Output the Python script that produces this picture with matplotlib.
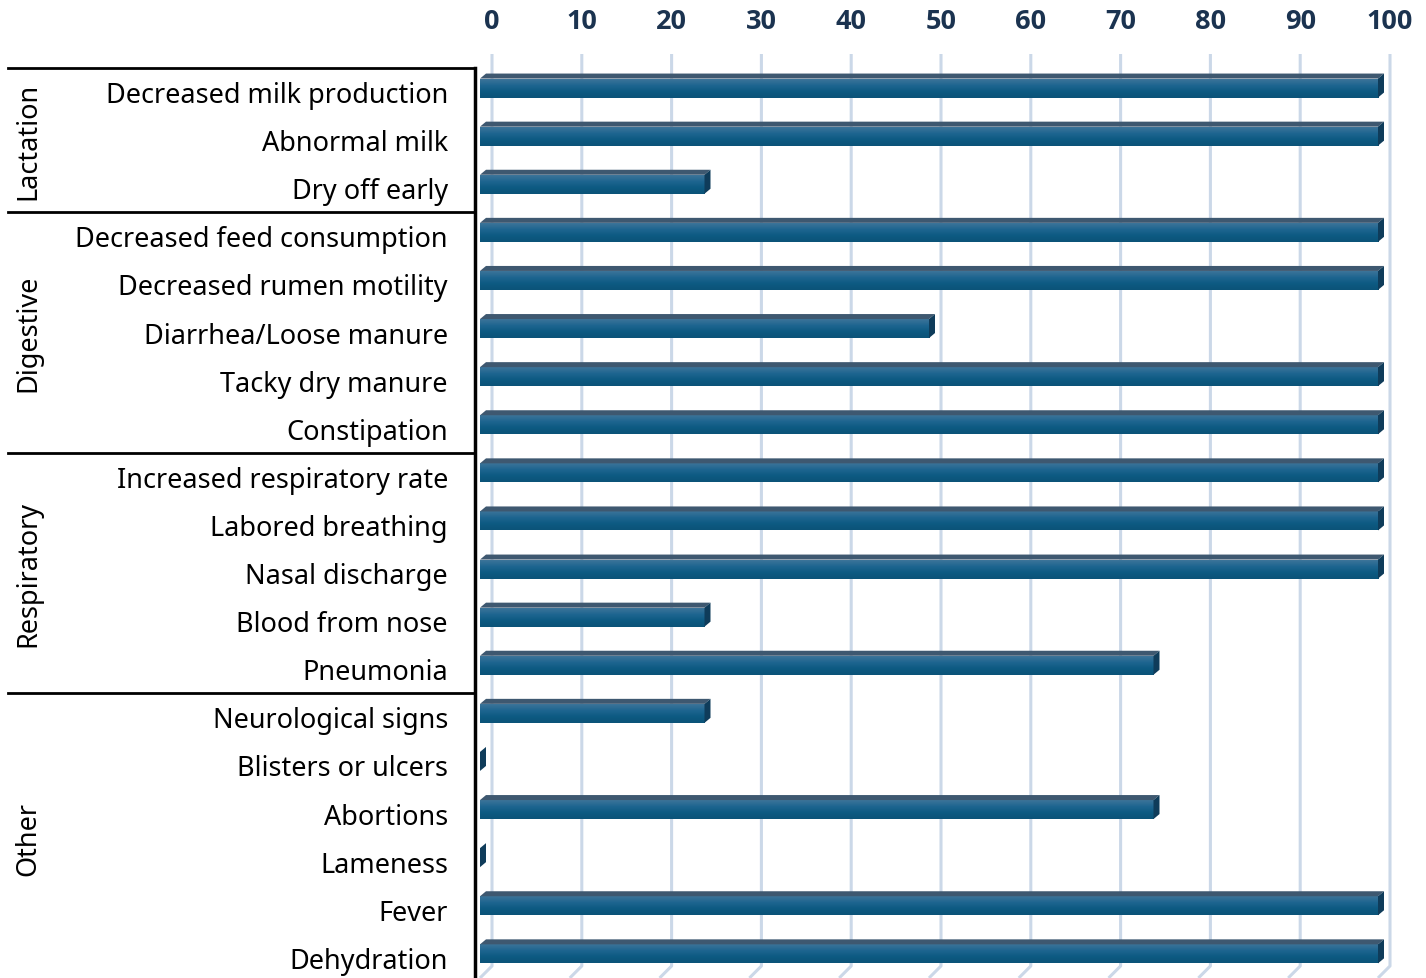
import matplotlib.pyplot as plt
import numpy as np
from matplotlib.patches import Polygon

# Data
groups = ["Lactation", "Digestive", "Respiratory", "Other"]
group_sizes = [3, 5, 5, 6]
symptoms = [
    "Decreased milk production", "Abnormal milk", "Dry off early",
    "Decreased feed consumption", "Decreased rumen motility",
    "Diarrhea/Loose manure", "Tacky dry manure", "Constipation",
    "Increased respiratory rate", "Labored breathing", "Nasal discharge",
    "Blood from nose", "Pneumonia",
    "Neurological signs", "Blisters or ulcers", "Abortions", "Lameness",
    "Fever", "Dehydration",
]
values = [100, 100, 25, 100, 100, 50, 100, 100, 100, 100, 100, 25, 75,
          25, 0, 75, 0, 100, 100]
ticks = list(range(0, 101, 10))

plt.rcParams['font.family'] = ['Noto Sans', 'DejaVu Sans']

W, H = 1426, 979
fig = plt.figure(figsize=(W / 100, H / 100), dpi=100)

# layout in pixels
x0_px, xs = 480, 8.98          # value 0 at front face, px per unit
y0_px, ys = 69, 48.1           # top of first slot, px per row
ax_l, ax_r = 475, 1400
n = len(symptoms)
ax_b = y0_px + n * ys

def px2x(px):
    return (px - x0_px) / xs

def py2y(py):
    return (py - y0_px) / ys - 0.5

ax = fig.add_axes([ax_l / W, 1 - ax_b / H, (ax_r - ax_l) / W, (ax_b - y0_px) / H])
ax.set_xlim(px2x(ax_l), px2x(ax_r))
ax.set_ylim(n - 0.5, -0.5)
ax.axis('off')

# back wall offset, bar depth
wall_dx = 12 / xs
floor_dy = 12 / ys
dep_x, dep_y = 6 / xs, 5 / ys
bar_h = 19 / ys
bar_shift = -4 / ys

grid_c = '#cbd8e8'
for t in ticks:
    ax.plot([t + wall_dx, t + wall_dx, t], [py2y(55), py2y(967), py2y(967) + floor_dy],
            color=grid_c, lw=2.2, zorder=1, clip_on=False, solid_capstyle='butt')
    ax.text(t + wall_dx, py2y(22), str(t), ha='center', va='center',
            fontsize=19.5, fontweight='bold', color='#1b3350', clip_on=False,
            family=['Open Sans', 'DejaVu Sans'])

grad = np.linspace(0, 1, 64).reshape(-1, 1)
cmap = plt.matplotlib.colors.LinearSegmentedColormap.from_list(
    'front', ['#3c7499', '#1e6590', '#0d5a82', '#0b5378'])
ypos = np.arange(n) + bar_shift
bars = ax.barh(ypos, values, height=bar_h, color='#15608a', zorder=3)
for b, v in zip(bars, values):
    yt, yb = b.get_y(), b.get_y() + b.get_height()
    x1 = b.get_width()
    if v > 0:
        im = ax.imshow(grad, cmap=cmap, aspect='auto', extent=[0, x1, yb, yt],
                       zorder=3.5, interpolation='bilinear')
        im.set_clip_path(b)
        top = Polygon([(0, yt), (x1, yt), (x1 + dep_x, yt - dep_y), (dep_x, yt - dep_y)],
                      closed=True, color='#3e5870', zorder=4, lw=0)
        ax.add_patch(top)
    side = Polygon([(x1, yt), (x1 + dep_x, yt - dep_y), (x1 + dep_x, yb - dep_y), (x1, yb)],
                   closed=True, color='#0f3c5a', zorder=4, lw=0)
    ax.add_patch(side)

ax.set_xlim(px2x(ax_l), px2x(ax_r))
ax.set_ylim(n - 0.5, -0.5)

# category labels
for i, s in enumerate(symptoms):
    ax.text(px2x(448), i + 3 / ys, s, ha='right', va='center', fontsize=19.5,
            color='black', clip_on=False)

# group labels and separators
edges = np.concatenate([[0], np.cumsum(group_sizes)]) - 0.5
for g, a, b in zip(groups, edges[:-1], edges[1:]):
    ax.plot([px2x(8), px2x(ax_l)], [a, a], color='black', lw=2, clip_on=False, zorder=5)
    ax.text(px2x(28), (a + b) / 2, g, rotation=90, ha='center', va='center',
            fontsize=19.5, color='black', clip_on=False)
ax.plot([px2x(ax_l), px2x(ax_l)], [edges[0], n + 0.5], color='black', lw=2.5,
        clip_on=False, zorder=5)

fig.savefig('out.png', dpi=100)
